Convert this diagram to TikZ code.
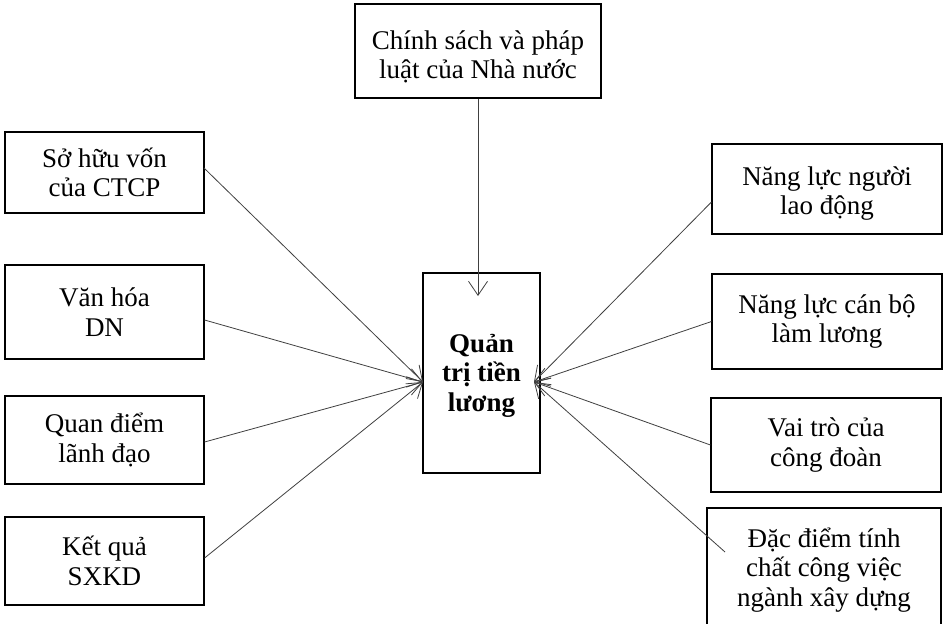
\documentclass[tikz,border=0pt]{standalone}
\usepackage{fontspec}
\setmainfont{Liberation Serif}
\usetikzlibrary{arrows.meta}
\tikzset{
  box/.style={draw=black, line width=1.1pt, fill=white, align=center, inner sep=0pt,
    font=\fontsize{27}{29.5}\selectfont},
  arr/.style={draw=black!75, line width=0.8pt, -{Straight Barb[length=14pt,width=19pt,line width=0.8pt]}},
}
\begin{document}
\begin{tikzpicture}[x=1pt,y=-1pt]
\useasboundingbox (0,0) rectangle (949,623);
\fill[white] (0,0) rectangle (949,623);
\clip (0,0) rectangle (949,623);
% nodes
\node[box, minimum width=246pt, minimum height=94pt] (T) at (478,51) {\rule{0pt}{30pt}Chính sách và pháp\\luật của Nhà nước};
\node[box, minimum width=117pt, minimum height=200pt, font=\fontsize{27}{29.5}\selectfont\bfseries] (C) at (481.5,373) {\rule{0pt}{23pt}Quản\\trị tiền\\lương};
\node[box, minimum width=199pt, minimum height=81pt] (L1) at (104.5,172.5) {Sở hữu vốn\\của CTCP};
\node[box, minimum width=199pt, minimum height=94pt] (L2) at (104.5,312) {Văn hóa\\DN};
\node[box, minimum width=199pt, minimum height=88pt] (L3) at (104.5,440) {Quan điểm\\lãnh đạo};
\node[box, minimum width=199pt, minimum height=88pt] (L4) at (104.5,561) {Kết quả\\SXKD};
\node[box, minimum width=230pt, minimum height=90pt] (R1) at (827,189) {\rule{0pt}{28pt}Năng lực người\\lao động};
\node[box, minimum width=230pt, minimum height=95pt] (R2) at (827,321.5) {Năng lực cán bộ\\làm lương};
\node[box, minimum width=230pt, minimum height=94pt] (R3) at (826,445) {Vai trò của\\công đoàn};
\node[box, minimum width=234pt, minimum height=124pt] (R4) at (824,570) {Đặc điểm tính\\chất công việc\\ngành xây dựng};
% connector points
\coordinate (tipL) at (423,382);
\coordinate (tipR) at (534,382);
\coordinate (tipT) at (478,296);
\coordinate (s1) at (204,168);
\coordinate (s4) at (725,552);
% connectors
\draw[arr] (T.south) -- (tipT);
\draw[arr] (s1) -- (tipL);
\draw[arr] ([yshift=-8pt]L2.east) -- (tipL);
\draw[arr] ([yshift=-2pt]L3.east) -- (tipL);
\draw[arr] ([yshift=3pt]L4.east) -- (tipL);
\draw[arr] ([yshift=-13pt]R1.west) -- (tipR);
\draw[arr] (R2.west) -- (tipR);
\draw[arr] (R3.west) -- (tipR);
\draw[arr] (s4) -- (tipR);
\end{tikzpicture}
\end{document}
